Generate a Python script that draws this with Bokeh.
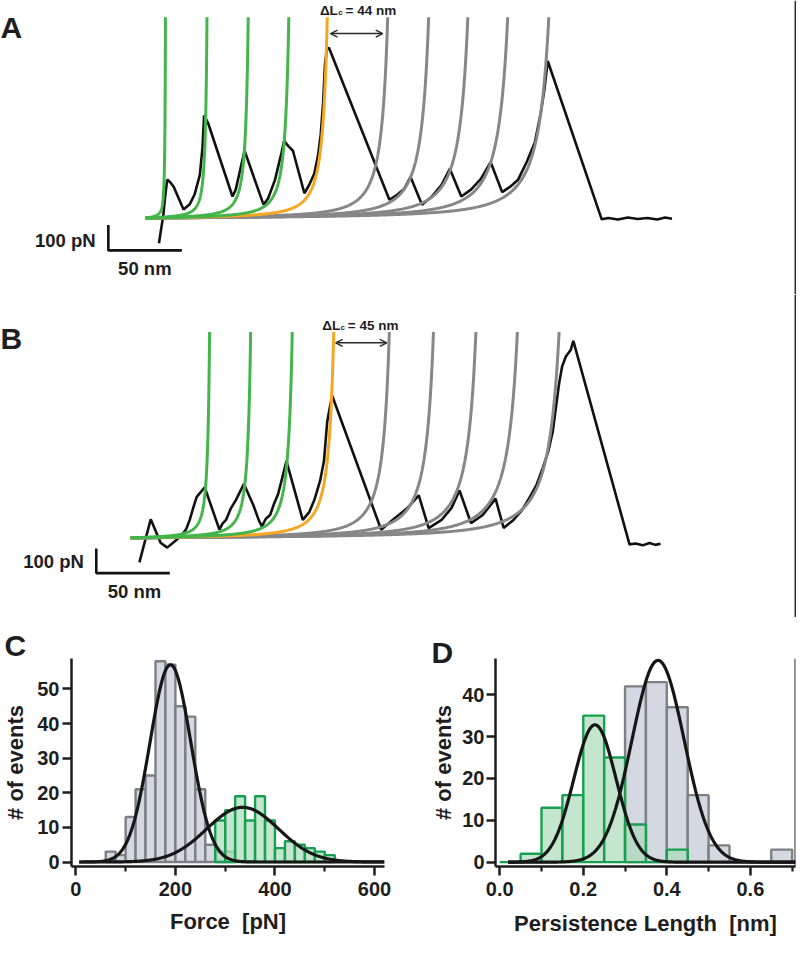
import numpy as np
from bokeh.plotting import figure
from bokeh.models import (Range1d, Label, Span, Arrow, OpenHead, FixedTicker,
                          LinearAxis, PrintfTickFormatter)
from bokeh.layouts import column, row
from bokeh.embed import file_html
from bokeh.resources import INLINE

FONT = "Liberation Sans"
INK = "#1e1e1e"

# ---------------- data ----------------
# Panel A : force-extension trace (extension nm, force pN)
a_trace_x = [9.1, 10.7, 12.0, 13.3, 14.7, 16.9, 19.1, 25.8, 30.0, 33.3, 36.9, 38.7, 39.8, 42.5,
             59.1, 61.3, 64.0, 67.3, 80.2, 83.3, 88.0, 92.5, 94.2, 96.9, 100.2, 108.0, 111.3,
             114.7, 117.3, 119.1, 120.7, 122.0, 123.3, 124.7, 165.8, 171.3, 176.0, 180.2, 188.0,
             194.7, 201.3, 206.9, 214.7, 221.3, 228.0, 234.7, 242.5, 248.0, 253.3, 259.1, 264.7,
             268.7, 271.3, 273.5, 310.2, 314.7, 321.3, 328.0, 334.7, 341.3, 348.0, 353.3, 358.0]
a_trace_f = [-98.8, -38.5, 7.7, 84.6, 151.2, 139.6, 123.1, 33.5, 53.8, 92.3, 169.2, 276.9, 402.7,
             373.1, 84.6, 111.5, 180.8, 264.2, 52.7, 76.9, 150.0, 257.7, 302.7, 283.5, 264.2, 97.3,
             130.8, 174.2, 246.2, 327.3, 450.0, 603.8, 661.5, 668.1, 71.8, 92.3, 115.4, 161.5,
             52.7, 84.6, 130.8, 193.5, 84.6, 111.5, 153.8, 219.2, 101.9, 123.1, 150.0, 219.2,
             296.2, 411.5, 507.7, 616.5, -5.0, 0.0, -5.8, 1.9, -3.8, 0.0, -5.8, 1.9, -2.7]
# WLC fit contour lengths (nm)
a_lc_green = [14.2, 43.9, 73.4, 102.4]
a_lc_orange = [129.9]
a_lc_gray = [173.1, 202.4, 230.4, 258.9, 288.3]
a_fmax = 788.0
a_delta_label = "= 44 nm"

# Panel B
b_trace_x = [6.0, 13.7, 20.4, 24.9, 31.5, 36.0, 38.0, 40.2, 42.6, 44.9, 47.5, 50.4, 60.4, 62.5,
             64.9, 68.0, 71.5, 77.1, 83.5, 87.1, 89.3, 92.0, 94.9, 97.5, 100.4, 106.0, 117.1,
             121.5, 124.9, 128.9, 131.5, 133.7, 135.5, 137.1, 170.4, 178.2, 188.2, 196.0, 202.7,
             211.5, 218.2, 223.7, 231.5, 239.5, 248.2, 253.7, 260.4, 266.2, 271.5, 276.0, 280.4,
             284.0, 287.1, 291.5, 293.5, 296.0, 299.3, 301.1, 339.3, 343.5, 348.2, 352.9, 356.9,
             360.4]
b_trace_f = [-100, 76, -20, -40, -6.8, 20, 38, 73.2, 122, 166.4, 185.2, 206.4, 33.2, 58,
             73.2, 118, 153.2, 220, 133.2, 73.2, 46.4, 78, 93.2, 138, 180, 313.2, 73.2, 105.2,
             153.2, 233.2, 313.2, 473.2, 533.2, 580, 33.2, 73.2, 121.2, 173.2, 40, 73.2, 121.2,
             193.2, 60, 93.2, 160, 40, 73.2, 113.2, 166.4, 215, 286.4, 352, 433.2, 633.2, 700,
             740, 766.4, 804, -26.8, -22.8, -30.8, -20.8, -28.8, -24]
b_lc_green = [56.4, 85.7, 115.4]
b_lc_orange = [145.0]
b_lc_gray = [184.7, 216.2, 246.5, 276.1, 305.9]
b_fmax = 840.0
b_delta_label = "= 45 nm"

kT = 4.11          # pN nm
persistence = 0.55  # nm

# Panel C : unfolding force histogram
c_bin_width = 20
c_gray_left = [60, 80, 100, 120, 140, 160, 180, 200, 220, 240, 260, 280, 300]
c_gray_count = [3, 2, 13, 21, 25, 58, 57, 45, 42, 21, 5, 3, 3]
c_green_left = [280, 300, 320, 340, 360, 380, 400, 420, 440, 460, 480, 500]
c_green_count = [12, 15, 19, 12, 19, 12, 4, 6, 5, 4, 3, 2]
c_fit_gray = (57.0, 190.0, 41.0)     # amplitude, mean, sigma
c_fit_green = (15.8, 335.0, 72.0)
c_fit_span = (7.0, 620.0)
c_xticks = [0, 200, 400, 600]
c_xminor = [100, 300, 500]
c_yticks = [0, 10, 20, 30, 40, 50]

# Panel D : persistence length histogram
d_bin_width = 0.05
d_green_left = [0.00, 0.05, 0.10, 0.15, 0.20, 0.25, 0.30, 0.35, 0.40]
d_green_count = [0, 2, 13, 16, 35, 25, 9, 0, 3]
d_gray_left = [0.30, 0.35, 0.40, 0.45, 0.50, 0.55, 0.60, 0.65]
d_gray_count = [42, 43, 37, 16, 4, 0, 0, 3]
d_fit_green = (32.8, 0.228, 0.0506)
d_fit_gray = (48.2, 0.379, 0.0624)
d_fit_span = (0.02, 0.708)
d_xticks = [0.0, 0.2, 0.4, 0.6]
d_xminor = [0.1, 0.3, 0.5, 0.7]
d_yticks = [0, 10, 20, 30, 40]

GREEN = "#43b54a"
ORANGE = "#f6a622"
GRAY = "#878787"
H_GRAY_FILL = "#d4d8e0"
H_GRAY_LINE = "#7c8084"
H_GREEN_FILL = "#abdbba"
H_GREEN_LINE = "#17a04f"


def wlc_curve(lc, f_max):
    z = np.concatenate([np.linspace(0.0, 0.9, 400, endpoint=False),
                        1.0 - np.geomspace(0.1, 0.003, 800)])
    f = kT / persistence * (0.25 / (1.0 - z) ** 2 - 0.25 + z)
    z_top = np.interp(f_max, f, z)
    keep = f < f_max
    return np.append(z[keep], z_top) * lc, np.append(f[keep], f_max)


def bare_fig(w, h, xr, yr):
    p = figure(width=w, height=h, x_range=Range1d(*xr), y_range=Range1d(*yr),
               x_axis_type=None, y_axis_type=None, output_backend="svg",
               toolbar_location=None, min_border=0)
    p.outline_line_color = None
    p.background_fill_color = "white"
    p.border_fill_color = "white"
    return p


def trace_panel(p, tx, tf, lc_green, lc_orange, lc_gray, fmax, arrow_f, gaps):
    p.line(tx, tf, line_color="#111111", line_width=2.6)
    curves = {}
    for name, lcs, col in (("gray", lc_gray, GRAY), ("orange", lc_orange, ORANGE),
                           ("green", lc_green, GREEN)):
        curves[name] = []
        for lc in lcs:
            x, f = wlc_curve(lc, fmax)
            curves[name].append((x, f))
            p.line(x, f, line_color=col, line_width=3)
    xo, fo = curves["orange"][0]
    xg, fg = curves["gray"][0]
    x1 = np.interp(arrow_f, fo, xo) + gaps[0]
    x2 = np.interp(arrow_f, fg, xg) - gaps[1]
    p.add_layout(Arrow(start=OpenHead(size=7, line_width=1.5, line_color="#2a2a2a"),
                       end=OpenHead(size=7, line_width=1.5, line_color="#2a2a2a"),
                       x_start=x1, y_start=arrow_f, x_end=x2, y_end=arrow_f,
                       line_width=1.5, line_color="#2a2a2a"))
    return xo[-1]


def lbl(p, x, y, text, size, align="left", baseline="alphabetic", angle=0):
    p.add_layout(Label(x=x, y=y, text=text, text_font=FONT, text_font_style="bold",
                       text_font_size=size, text_color=INK, text_align=align,
                       text_baseline=baseline, angle=angle))


def scale_bar(p, x0, y0, fy, fx):
    p.line([x0, x0, x0 + fx], [y0 + fy, y0, y0], line_color="#111111", line_width=2.6)


def panel_title(p, letter, offset, standoff):
    p.title.text = letter
    p.title.align = "left"
    p.title.offset = offset
    p.title.standoff = standoff
    p.title.text_font = FONT
    p.title.text_font_style = "bold"
    p.title.text_font_size = "30px"
    p.title.text_color = INK
    p.title.text_line_height = 1.0


# ---------------- panel A ----------------
pa = bare_fig(796, 294, (-98.67, 442.67), (-300.0, 853.85))
ta = trace_panel(pa, a_trace_x, a_trace_f, a_lc_green, a_lc_orange, a_lc_gray, a_fmax,
                 724.0, (2.5, 3.0))
scale_bar(pa, -25.33, -126.9, 100, 50)
lbl(pa, -34.0, -88.5, "100 pN", "18.5px", align="right", baseline="middle")
lbl(pa, -0.5, -197.3, "50 nm", "18.5px", align="center", baseline="middle")
lbl(pa, ta - 5.0, 814.0, "\u0394L", "13.5px")
lbl(pa, ta + 7.4, 805.0, "c", "8px")
lbl(pa, ta + 12.4, 814.0, a_delta_label, "13.5px")
lbl(pa, -98.67, 748.0, "A", "30px")
pa.add_layout(Span(location=441.8, dimension="height", line_color="#000000", line_width=1.2))

# ---------------- panel B ----------------
pb = bare_fig(796, 323, (-88.47, 452.87), (-325.2, 993.2))
tb = trace_panel(pb, b_trace_x, b_trace_f, b_lc_green, b_lc_orange, b_lc_gray, b_fmax,
                 796.0, (1.5, 1.5))
scale_bar(pb, -23.33, -144.0, 100, 50)
lbl(pb, -31.8, -97.6, "100 pN", "18.5px", align="right", baseline="middle")
lbl(pb, 2.67, -220.0, "50 nm", "18.5px", align="center", baseline="middle")
lbl(pb, tb - 7.8, 866.4, "\u0394L", "13.5px")
lbl(pb, tb + 4.6, 857.4, "c", "8px")
lbl(pb, tb + 9.6, 866.4, b_delta_label, "13.5px")
lbl(pb, -88.47, 815.0, "B", "30px")
pb.add_layout(Span(location=452.0, dimension="height", line_color="#000000", line_width=1.2))


# ---------------- histograms ----------------
def style_axis(ax, label, label_standoff, major_standoff):
    ax.axis_label = label
    ax.axis_line_width = 2.5
    ax.axis_line_color = INK
    ax.major_tick_line_width = 2.5
    ax.major_tick_line_color = INK
    ax.major_tick_out = 9
    ax.major_tick_in = 0
    ax.minor_tick_line_width = 2.2
    ax.minor_tick_line_color = INK
    ax.minor_tick_out = 5
    ax.minor_tick_in = 0
    ax.major_label_text_font = FONT
    ax.major_label_text_font_style = "bold"
    ax.major_label_text_font_size = "20px"
    ax.major_label_text_color = INK
    ax.major_label_standoff = major_standoff
    ax.axis_label_text_font = FONT
    ax.axis_label_text_font_style = "bold"
    ax.axis_label_text_font_size = "22px"
    ax.axis_label_text_color = INK
    ax.axis_label_standoff = label_standoff


def gauss(params, span):
    amp, mu, sig = params
    x = np.linspace(span[0], span[1], 500)
    return x, amp * np.exp(-0.5 * ((x - mu) / sig) ** 2)


pc = figure(width=392, height=325, x_range=Range1d(-8.7, 620.0), y_range=Range1d(-1.3, 58.8),
            x_axis_type=None, y_axis_type=None, output_backend="svg", toolbar_location=None,
            min_border_left=67, min_border_right=8, min_border_top=41, min_border_bottom=76)
pc.outline_line_color = None
panel_title(pc, "C", -67, -6)
pc.quad(left=c_gray_left, right=[v + c_bin_width for v in c_gray_left], bottom=0,
        top=c_gray_count, fill_color=H_GRAY_FILL, line_color=H_GRAY_LINE, line_width=2.4)
pc.quad(left=c_green_left, right=[v + c_bin_width for v in c_green_left], bottom=0,
        top=c_green_count, fill_color=H_GREEN_FILL, fill_alpha=0.7, line_color=H_GREEN_LINE,
        line_width=2.4)
for prm in (c_fit_gray, c_fit_green):
    gx, gy = gauss(prm, c_fit_span)
    pc.line(gx, gy, line_color="#161616", line_width=3.2)
xa = LinearAxis(ticker=FixedTicker(ticks=c_xticks, minor_ticks=c_xminor))
style_axis(xa, "Force\u00a0 [pN]", 10, 6)
pc.add_layout(xa, "below")
ya = LinearAxis(ticker=FixedTicker(ticks=c_yticks, minor_ticks=[]))
style_axis(ya, "# of events", 6, 3)
pc.add_layout(ya, "left")

pd_ = figure(width=404, height=325, x_range=Range1d(-0.0101, 0.708), y_range=Range1d(-1.04, 48.65),
             x_axis_type=None, y_axis_type=None, output_backend="svg", toolbar_location=None,
             min_border_left=103, min_border_right=1, min_border_top=28, min_border_bottom=73)
pd_.outline_line_color = None
panel_title(pd_, "D", -64, -21)
pd_.quad(left=d_gray_left, right=[v + d_bin_width for v in d_gray_left], bottom=0,
         top=d_gray_count, fill_color=H_GRAY_FILL, line_color=H_GRAY_LINE, line_width=2.4)
pd_.quad(left=d_green_left, right=[v + d_bin_width for v in d_green_left], bottom=0,
         top=d_green_count, fill_color=H_GREEN_FILL, fill_alpha=0.7, line_color=H_GREEN_LINE,
         line_width=2.4)
for prm in (d_fit_green, d_fit_gray):
    gx, gy = gauss(prm, d_fit_span)
    pd_.line(gx, gy, line_color="#161616", line_width=3.2)
xd = LinearAxis(ticker=FixedTicker(ticks=d_xticks, minor_ticks=d_xminor),
                formatter=PrintfTickFormatter(format="%.1f"))
style_axis(xd, "Persistence Length\u00a0 [nm]", 12, 6)
pd_.add_layout(xd, "below")
yd = LinearAxis(ticker=FixedTicker(ticks=d_yticks, minor_ticks=[]))
style_axis(yd, "# of events", 3, 2)
pd_.add_layout(yd, "left")
pd_.add_layout(Span(location=0.7072, dimension="height", line_color="#000000", line_width=1.2))

layout = column(pa, pb, row(pc, pd_, spacing=0), spacing=0)
open("out.html", "w").write(file_html(layout, INLINE))
